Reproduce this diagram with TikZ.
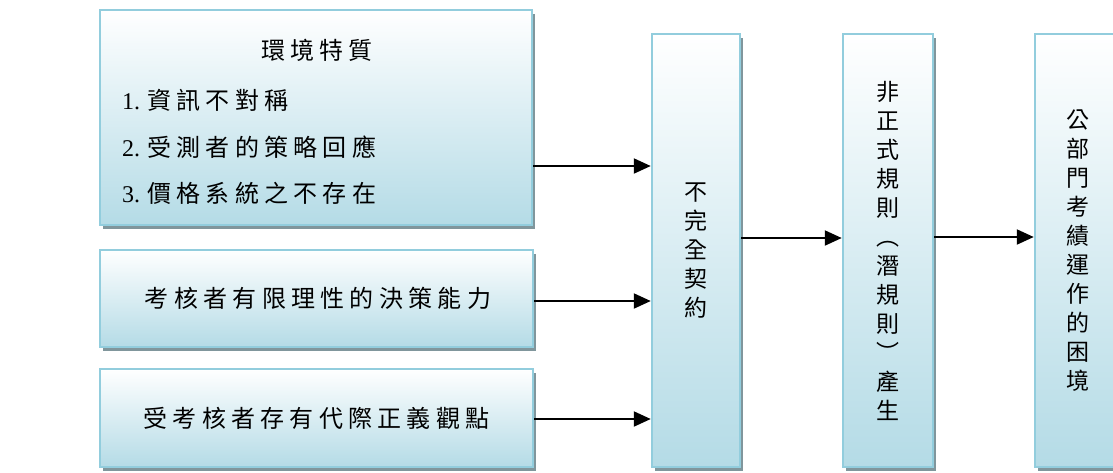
\documentclass[tikz,border=0pt]{standalone}
\usepackage{fontspec}
\setmainfont{Liberation Serif}
\newfontfamily\cjk[LetterSpace=22]{Noto Sans CJK TC}
\newfontfamily\cjkv{Noto Sans CJK TC}
\usetikzlibrary{arrows.meta,shadows}
\definecolor{boxblue}{RGB}{180,219,230}
\definecolor{boxedge}{RGB}{146,205,221}
\definecolor{shadowc}{RGB}{128,150,156}
\begin{document}
\begin{tikzpicture}[x=1pt,y=-1pt,
  box/.style={draw=boxedge, line width=2.5pt, top color=white, bottom color=boxblue,
    drop shadow={shadow xshift=3pt,shadow yshift=-4pt,fill=shadowc,opacity=1},
    inner sep=0pt, font=\fontsize{24}{29}\selectfont, align=center},
  vbox/.style={box, font=\fontsize{23}{29}\selectfont\cjkv},
  arr/.style={line width=2.2pt, -{Triangle[length=17pt,width=15pt]}},
  txt/.style={font=\fontsize{24}{29}\selectfont, inner sep=0pt}]
\useasboundingbox (0,0) rectangle (1113,472);
\begin{scope}
\clip (0,0) rectangle (1113,472);
% left boxes
\node[box, minimum width=432pt, minimum height=215pt] (env) at (316,117.5) {};
\node[box, minimum width=433pt, minimum height=97pt] (bounded) at (316.5,298.5) {\hspace{3pt}\cjk 考核者有限理性的決策能力};
\node[box, minimum width=433pt, minimum height=98pt] (justice) at (316.5,418) {\cjk 受考核者存有代際正義觀點};
% vertical boxes
\node[vbox, minimum width=88pt, minimum height=433pt] (contract) at (696,250.5) {不\\完\\全\\契\\約};
\node[vbox, minimum width=90pt, minimum height=433pt] (informal) at (888,250.5) {非\\正\\式\\規\\則\\︵\\潛\\規\\則\\︶\\產\\生};
\node[vbox, minimum width=86pt, minimum height=433pt] (dilemma) at (1078,250.5) {公\\部\\門\\考\\績\\運\\作\\的\\困\\境};
\end{scope}
% texts in the first box
\node[txt] (envtitle) at (317,50) {\cjk 環境特質};
\node[txt, anchor=west] (env1) at (122,100) {1.\hspace{7pt}{\cjk 資訊不對稱}};
\node[txt, anchor=west] (env2) at (122,147) {2.\hspace{7pt}{\cjk 受測者的策略回應}};
\node[txt, anchor=west] (env3) at (122,193) {3.\hspace{7pt}{\cjk 價格系統之不存在}};
% connectors
\draw[arr] (env.east |- 0,166) -- (contract.west |- 0,166);
\draw[arr] (bounded.east |- 0,301) -- (contract.west |- 0,301);
\draw[arr] (justice.east |- 0,419) -- (contract.west |- 0,419);
\draw[arr] (contract.east |- 0,238) -- (informal.west |- 0,238);
\draw[arr] (informal.east |- 0,237) -- (dilemma.west |- 0,237);
\end{tikzpicture}
\end{document}
